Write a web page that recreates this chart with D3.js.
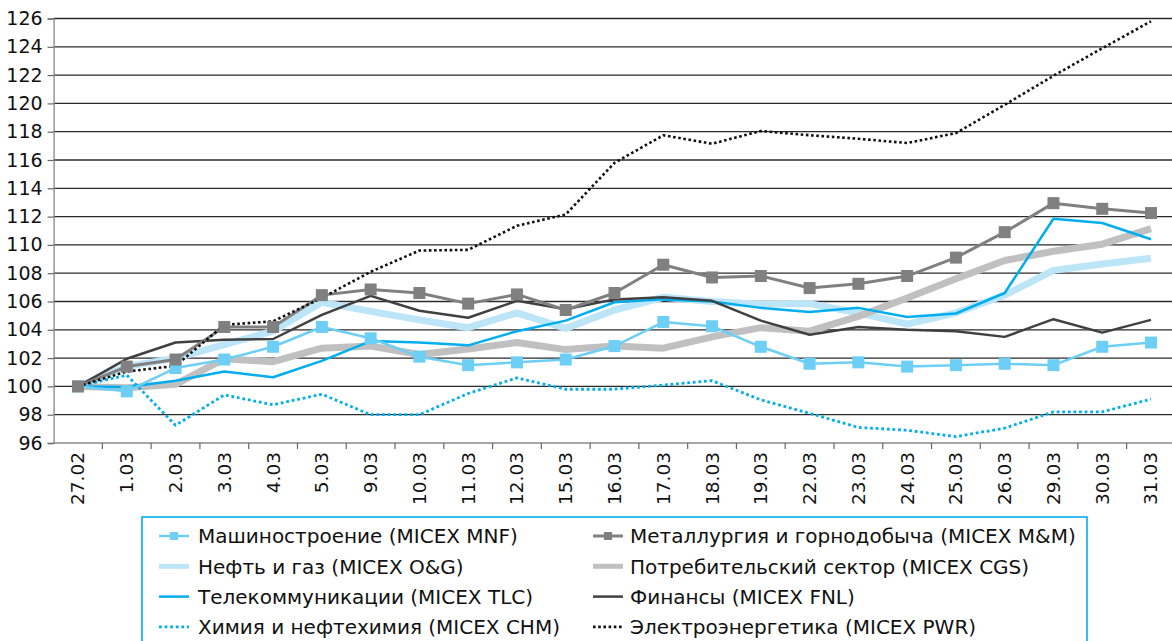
<!DOCTYPE html>
<html>
<head>
<meta charset="utf-8">
<script src="https://cdn.jsdelivr.net/npm/d3@7"></script>
<style>
  body { margin: 0; background: #fff; }
  svg { display: block; font-family: "DejaVu Sans", "Liberation Sans", sans-serif; }
</style>
</head>
<body>
<div id="chart"></div>
<script>
// dates on the x axis
const dates = ["27.02", "1.03", "2.03", "3.03", "4.03", "5.03", "9.03", "10.03", "11.03", "12.03",
    "15.03", "16.03", "17.03", "18.03", "19.03", "22.03", "23.03", "24.03", "25.03", "26.03",
    "29.03", "30.03", "31.03"];

const yTicks = [96, 98, 100, 102, 104, 106, 108, 110, 112, 114, 116, 118, 120, 122, 124, 126];

// index values, 27.02 = 100
const mnf = [100, 99.65, 101.3, 101.9, 102.8, 104.2, 103.4, 102.1, 101.5, 101.7, 101.9, 102.85,
    104.55, 104.25, 102.8, 101.6, 101.7, 101.4, 101.5, 101.6, 101.5, 102.8, 103.1];
const mm = [100, 101.4, 101.9, 104.2, 104.2, 106.45, 106.85, 106.6, 105.85, 106.5, 105.4, 106.6,
    108.6, 107.7, 107.8, 106.95, 107.25, 107.8, 109.1, 110.9, 112.95, 112.55, 112.25];
const og = [100, 101.4, 102.0, 102.95, 103.9, 105.95, 105.3, 104.7, 104.15, 105.2, 104.1, 105.4,
    106.3, 106.0, 105.8, 105.85, 105.2, 104.4, 105.2, 106.45, 108.2, 108.65, 109.05];
const cgs = [100, 99.9, 100.15, 101.95, 101.75, 102.7, 102.85, 102.25, 102.65, 103.1, 102.6, 102.85,
    102.7, 103.5, 104.15, 103.9, 104.95, 106.25, 107.6, 108.9, 109.55, 110.05, 111.15];
const tlc = [100, 99.95, 100.4, 101.05, 100.65, 101.8, 103.2, 103.1, 102.9, 103.9, 104.65, 105.95,
    106.15, 106.0, 105.55, 105.25, 105.55, 104.9, 105.15, 106.6, 111.85, 111.55, 110.4];
const fnl = [100, 101.95, 103.1, 103.3, 103.35, 105.05, 106.4, 105.35, 104.85, 106.05, 105.45, 106.15,
    106.3, 106.05, 104.65, 103.65, 104.2, 104.0, 103.9, 103.5, 104.75, 103.8, 104.7];
const chm = [100, 100.8, 97.25, 99.4, 98.7, 99.45, 98.0, 98.0, 99.5, 100.6, 99.8, 99.8,
    100.1, 100.4, 99.05, 98.1, 97.1, 96.9, 96.45, 97.05, 98.2, 98.2, 99.1];
const pwr = [100, 101.05, 101.45, 104.35, 104.6, 106.25, 108.1, 109.6, 109.65, 111.35, 112.15, 115.8,
    117.75, 117.15, 118.05, 117.75, 117.5, 117.2, 117.9, 119.9, 121.95, 123.9, 125.8];

const seriesNames = ["Машиностроение (MICEX MNF)", "Металлургия и горнодобыча (MICEX M&M)",
    "Нефть и газ (MICEX O&G)", "Потребительский сектор (MICEX CGS)",
    "Телекоммуникации (MICEX TLC)", "Финансы (MICEX FNL)",
    "Химия и нефтехимия (MICEX CHM)", "Электроэнергетика (MICEX PWR)"];

const series = [
    {name: seriesNames[0], values: mnf, color: "#6dcff6", width: 2.5, marker: true, z: 2},
    {name: seriesNames[1], values: mm, color: "#808080", width: 3, marker: true, z: 2},
    {name: seriesNames[2], values: og, color: "#bde5f8", width: 7, z: 0},
    {name: seriesNames[3], values: cgs, color: "#c0c0c0", width: 7, z: 0},
    {name: seriesNames[4], values: tlc, color: "#00aeef", width: 2.5, z: 1},
    {name: seriesNames[5], values: fnl, color: "#404040", width: 2.5, z: 1},
    {name: seriesNames[6], values: chm, color: "#00aeef", width: 2.8, dash: "2.8,2.8", z: 1},
    {name: seriesNames[7], values: pwr, color: "#111111", width: 2.6, dash: "2.6,2.6", z: 3}
];

const W = 1172, H = 641;
const plot = {left: 53.6, right: 1175.4, top: 18.5, bottom: 443};

const svg = d3.select("#chart").append("svg")
    .attr("width", W)
    .attr("height", H);

const xScale = d3.scaleBand()
    .domain(dates)
    .range([plot.left, plot.right])
    .padding(0);
const xc = d => xScale(d) + xScale.bandwidth() / 2;

const yScale = d3.scaleLinear()
    .domain([96, 126])
    .range([plot.bottom, plot.top]);

// gridlines
svg.append("g")
    .selectAll("line")
    .data(yTicks.filter(v => v > 96))
    .enter()
    .append("line")
    .attr("x1", plot.left)
    .attr("x2", plot.right)
    .attr("y1", d => yScale(d))
    .attr("y2", d => yScale(d))
    .attr("stroke", "#2a2a2a")
    .attr("stroke-width", 1.3);

// y axis
const yAxis = svg.append("g")
    .attr("transform", `translate(${plot.left},0)`)
    .call(d3.axisLeft(yScale).tickValues(yTicks).tickSize(6).tickPadding(5));
yAxis.select(".domain").attr("stroke", "#888").attr("stroke-width", 1.3);
yAxis.selectAll(".tick line").attr("stroke", "#666").attr("stroke-width", 1.2);
yAxis.selectAll("text")
    .attr("font-size", "19px")
    .attr("font-family", "DejaVu Sans")
    .attr("fill", "#111");

// x axis line and ticks at category boundaries
svg.append("line")
    .attr("x1", plot.left).attr("x2", plot.right)
    .attr("y1", plot.bottom).attr("y2", plot.bottom)
    .attr("stroke", "#888").attr("stroke-width", 1.3);

svg.append("g")
    .selectAll("line")
    .data(dates)
    .enter()
    .append("line")
    .attr("x1", d => xScale(d) + xScale.bandwidth())
    .attr("x2", d => xScale(d) + xScale.bandwidth())
    .attr("y1", plot.bottom)
    .attr("y2", plot.bottom + 6)
    .attr("stroke", "#666")
    .attr("stroke-width", 1.2);

svg.append("g")
    .selectAll("text")
    .data(dates)
    .enter()
    .append("text")
    .attr("transform", d => `translate(${xc(d)},${plot.bottom + 9}) rotate(-90)`)
    .attr("text-anchor", "end")
    .attr("dy", "0.35em")
    .attr("font-size", "18.5px")
    .attr("fill", "#111")
    .text(d => d);

// lines
const line = d3.line()
    .x((d, i) => xc(dates[i]))
    .y(d => yScale(d));

const ordered = series.slice().sort((a, b) => a.z - b.z);

svg.append("g")
    .selectAll("path")
    .data(ordered)
    .enter()
    .append("path")
    .attr("fill", "none")
    .attr("stroke", d => d.color)
    .attr("stroke-width", d => d.width)
    .attr("stroke-dasharray", d => d.dash || null)
    .attr("stroke-linejoin", "round")
    .attr("d", d => line(d.values));

// square markers
const ms = 12;
series.filter(s => s.marker).forEach(s => {
    svg.append("g")
        .selectAll("rect")
        .data(s.values)
        .enter()
        .append("rect")
        .attr("x", (d, i) => xc(dates[i]) - ms / 2)
        .attr("y", d => yScale(d) - ms / 2)
        .attr("width", ms)
        .attr("height", ms)
        .attr("fill", s.color);
});

// legend
svg.append("rect")
    .attr("x", 142)
    .attr("y", 517)
    .attr("width", 945)
    .attr("height", 150)
    .attr("fill", "#fff")
    .attr("stroke", "#00aeef")
    .attr("stroke-width", 1.6);

const legend = svg.append("g")
    .selectAll("g")
    .data(series)
    .enter()
    .append("g")
    .attr("transform", (d, i) => `translate(${i % 2 === 0 ? 159 : 593},${536 + Math.floor(i / 2) * 30.3})`);

legend.append("line")
    .attr("x1", 0).attr("x2", 30)
    .attr("y1", 0).attr("y2", 0)
    .attr("stroke", d => d.color)
    .attr("stroke-width", d => d.width > 5 ? 5 : d.width)
    .attr("stroke-dasharray", d => d.dash || null);

legend.filter(d => d.marker)
    .append("rect")
    .attr("x", 11).attr("y", -4)
    .attr("width", 8).attr("height", 8)
    .attr("fill", d => d.color);

legend.append("text")
    .attr("x", d => (series.indexOf(d) % 2 === 0 ? 39 : 37))
    .attr("dy", "0.36em")
    .attr("font-size", "20px")
    .attr("fill", "#111")
    .text(d => d.name);
</script>
</body>
</html>
